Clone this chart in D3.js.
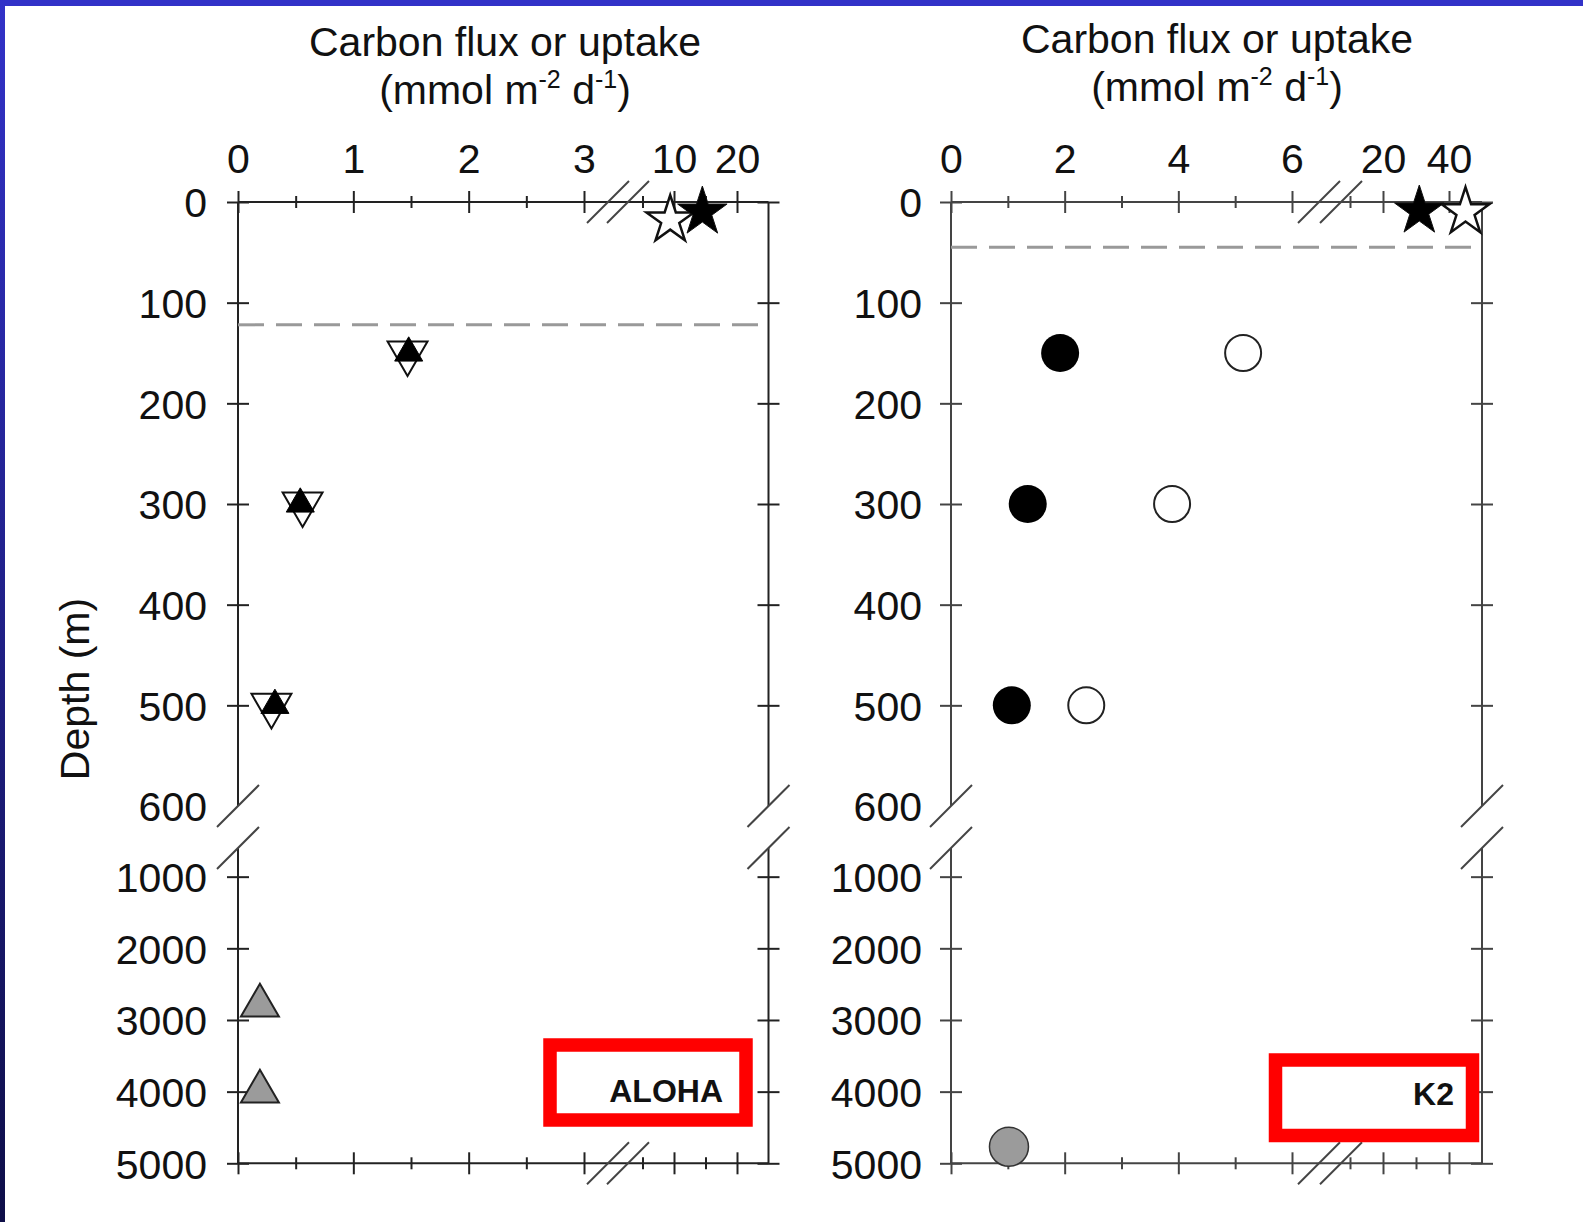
<!DOCTYPE html>
<html>
<head>
<meta charset="utf-8">
<script src="https://cdn.jsdelivr.net/npm/d3@7"></script>
<style>
body{margin:0;background:#fff;}
text{font-family:"Liberation Sans",Arial,sans-serif;fill:#111;}
</style>
</head>
<body>
<div class="chart"></div>
<script>
//depth axis (m)
var depthTicksTop=[0,100,200,300,400,500];
var depthTicksBottom=[1000,2000,3000,4000,5000];
var depthLabelsTop=[0,100,200,300,400,500,600];
var depthLabelsBottom=[1000,2000,3000,4000,5000];

//ALOHA
var alohaTicksLow=[0,1,2,3];
var alohaMinorLow=[0.5,1.5,2.5];
var alohaTicksHigh=[10,20];
var alohaMinorHigh=[5,15];
var alohaDepth=[150,300,500];
var alohaUp=[1.48,0.54,0.32];
var alohaDown=[1.47,0.56,0.29];
var alohaDeepDepth=[2800,4000];
var alohaDeep=[0.19,0.19];
var alohaStarFlux=[9.4,14.5];     //open, filled
var alohaStarDepth=[18,10];
var alohaMld=122;

//K2
var k2TicksLow=[0,2,4,6];
var k2MinorLow=[1,3,5];
var k2TicksHigh=[20,40];
var k2MinorHigh=[10,30];
var k2Depth=[150,300,500];
var k2Filled=[1.92,1.35,1.07];
var k2Open=[5.14,3.89,2.38];
var k2DeepDepth=[4770];
var k2Deep=[1.02];
var k2StarFlux=[45,31];           //open, filled
var k2StarDepth=[10,9];
var k2Mld=45;

var width=1583, height=1222;
var fmt=d3.format('d');
var svg=d3.select('div.chart')
		.append('svg')
		.attr('width',width)
		.attr('height',height);

//blue frame of the slide
var grad=svg.append('defs').append('linearGradient')
		.attr('id','edge').attr('x1',0).attr('y1',0).attr('x2',0).attr('y2',1);
grad.append('stop').attr('offset','0%').attr('stop-color','#3232c8');
grad.append('stop').attr('offset','100%').attr('stop-color','#0e0e48');
svg.append('rect').attr('width',width).attr('height',height).attr('fill','#fff');
svg.append('rect').attr('width',width).attr('height',6).attr('fill','#3232c8');
svg.append('rect').attr('width',5).attr('height',height).attr('fill','url(#edge)');

var yTop=d3.scaleLinear().domain([0,600]).range([202,806]);
var yBot=d3.scaleLinear().domain([600,5000]).range([848,1163.3]);
function y(d){ return d<=600?yTop(d):yBot(d); }

function styleAxis(sel,color){
	sel.attr('font-size',null).attr('font-family',null);
	sel.select('.domain').remove();
	sel.selectAll('line').attr('stroke',color).attr('stroke-width',2);
	sel.selectAll('text').attr('fill','#111').style('font-size','41px');
}

function Title(cx,by){
	svg.append('text')
		.attr('x',cx).attr('y',by)
		.attr('text-anchor','middle')
		.style('font-size','41px')
		.text('Carbon flux or uptake');
	var t=svg.append('text')
		.attr('x',cx).attr('y',by+48)
		.attr('text-anchor','middle')
		.style('font-size','41px');
	t.append('tspan').text('(mmol m');
	t.append('tspan').attr('dy',-16).style('font-size','25px').text('-2');
	t.append('tspan').attr('dy',16).text(' d');
	t.append('tspan').attr('dy',-16).style('font-size','25px').text('-1');
	t.append('tspan').attr('dy',16).text(')');
}

function Panel(o){
	var g=svg.append('g');
	var xLow=d3.scaleLinear().domain(o.lowDomain).range(o.lowRange);
	var xHigh=d3.scaleLinear().domain(o.highDomain).range(o.highRange);
	var x=function(v){ return v<o.split?xLow(v):xHigh(v); };
	var left=xLow(0), right=xHigh(o.highEnd), top=yTop(0), bottom=yBot(5000);
	var c=o.color;

	//frame
	[top,bottom].forEach(function(yy){
		g.append('line').attr('x1',left).attr('x2',right).attr('y1',yy).attr('y2',yy)
			.attr('stroke',c).attr('stroke-width',2);
	});
	[left,right].forEach(function(xx){
		g.append('line').attr('x1',xx).attr('x2',xx).attr('y1',top).attr('y2',yTop(600))
			.attr('stroke',c).attr('stroke-width',2);
		g.append('line').attr('x1',xx).attr('x2',xx).attr('y1',yBot(600)).attr('y2',bottom)
			.attr('stroke',c).attr('stroke-width',2);
	});

	//ticks crossing the lines
	[top,bottom].forEach(function(yy){
		g.append('g').attr('transform','translate(0,'+(yy+11)+')')
			.call(d3.axisTop(xLow).tickValues(o.ticksLow).tickSize(22).tickFormat(''))
			.call(styleAxis,c);
		g.append('g').attr('transform','translate(0,'+(yy+6)+')')
			.call(d3.axisTop(xLow).tickValues(o.minorLow).tickSize(12).tickFormat(''))
			.call(styleAxis,c);
		g.append('g').attr('transform','translate(0,'+(yy+11)+')')
			.call(d3.axisTop(xHigh).tickValues(o.ticksHigh).tickSize(22).tickFormat(''))
			.call(styleAxis,c);
		g.append('g').attr('transform','translate(0,'+(yy+6)+')')
			.call(d3.axisTop(xHigh).tickValues(o.minorHigh).tickSize(12).tickFormat(''))
			.call(styleAxis,c);
	});
	[left,right].forEach(function(xx){
		g.append('g').attr('transform','translate('+(xx+11)+',0)')
			.call(d3.axisLeft(yTop).tickValues(depthTicksTop).tickSize(22).tickFormat(''))
			.call(styleAxis,c);
		g.append('g').attr('transform','translate('+(xx+11)+',0)')
			.call(d3.axisLeft(yBot).tickValues(depthTicksBottom).tickSize(22).tickFormat(''))
			.call(styleAxis,c);
	});

	//labels
	g.append('g').attr('transform','translate(0,'+top+')')
		.call(d3.axisTop(xLow).tickValues(o.ticksLow).tickSize(0).tickPadding(29).tickFormat(fmt))
		.call(styleAxis,c);
	g.append('g').attr('transform','translate(0,'+top+')')
		.call(d3.axisTop(xHigh).tickValues(o.ticksHigh).tickSize(0).tickPadding(29).tickFormat(fmt))
		.call(styleAxis,c);
	g.append('g').attr('transform','translate('+left+',0)')
		.call(d3.axisLeft(yTop).tickValues(depthLabelsTop).tickSize(0).tickPadding(o.labelPad).tickFormat(fmt))
		.call(styleAxis,c)
		.selectAll('text').attr('dy','0.36em');
	g.append('g').attr('transform','translate('+left+',0)')
		.call(d3.axisLeft(yBot).tickValues(depthLabelsBottom).tickSize(0).tickPadding(o.labelPad).tickFormat(fmt))
		.call(styleAxis,c)
		.selectAll('text').attr('dy','0.36em');

	//break marks
	function slash(cx,cy){
		g.append('line')
			.attr('x1',cx-21).attr('y1',cy+21).attr('x2',cx+21).attr('y2',cy-21)
			.attr('stroke','#444').attr('stroke-width',2);
	}
	o.breakX.forEach(function(bx){ slash(bx,top); slash(bx,bottom); });
	[yTop(600),yBot(600)].forEach(function(by){ slash(left,by); slash(right,by); });

	//mixed layer
	g.append('line')
		.attr('x1',left).attr('x2',right)
		.attr('y1',y(o.mld)).attr('y2',y(o.mld))
		.attr('stroke','#999').attr('stroke-width',3)
		.attr('stroke-dasharray','26,12');

	//label box
	g.append('rect')
		.attr('x',o.box[0]).attr('y',o.box[1]).attr('width',o.box[2]).attr('height',o.box[3])
		.attr('fill','#fff').attr('stroke','#ff0000').attr('stroke-width',13.5);
	g.append('text')
		.attr('x',o.boxText[0]).attr('y',o.boxText[1])
		.attr('text-anchor','end')
		.style('font-size','32px').style('font-weight','bold')
		.text(o.name);

	//stars
	var star=d3.symbol().type(d3.symbolStar);
	g.selectAll('path.star')
		.data(o.starFlux)
		.enter()
		.append('path')
		.attr('class','star')
		.attr('transform',function(d,i){ return 'translate('+x(d)+','+y(o.starDepth[i])+')'; })
		.attr('d',function(d,i){ return star.size(i==0?700:760)(); })
		.attr('fill',function(d,i){ return i==0?'#fff':'#000'; })
		.attr('stroke','#111')
		.attr('stroke-width',function(d,i){ return i==0?2.5:1; });
	return {g:g,x:x};
}

Title(505,56);
Title(1217,53);

svg.append('text')
	.attr('transform','translate(89,689) rotate(-90)')
	.attr('text-anchor','middle')
	.style('font-size','41px')
	.text('Depth (m)');

var aloha=Panel({
	name:'ALOHA',color:'#222',
	lowDomain:[0,3],lowRange:[238,584],
	highDomain:[10,20],highRange:[674,737],highEnd:25,split:4,
	ticksLow:alohaTicksLow,minorLow:alohaMinorLow,
	ticksHigh:alohaTicksHigh,minorHigh:alohaMinorHigh,
	labelPad:31,breakX:[608,628],mld:alohaMld,
	box:[550,1045,196,75],boxText:[723,1102],
	starFlux:alohaStarFlux,starDepth:alohaStarDepth
});

var tri=d3.symbol().type(d3.symbolTriangle);
aloha.g.selectAll('path.down')
	.data(alohaDown)
	.enter()
	.append('path')
	.attr('transform',function(d,i){ return 'translate('+aloha.x(d)+','+y(alohaDepth[i])+') rotate(180)'; })
	.attr('d',tri.size(690)())
	.attr('fill','#fff').attr('stroke','#111').attr('stroke-width',2);
aloha.g.selectAll('path.up')
	.data(alohaUp)
	.enter()
	.append('path')
	.attr('transform',function(d,i){ return 'translate('+aloha.x(d)+','+y(alohaDepth[i])+')'; })
	.attr('d',tri.size(340)())
	.attr('fill','#000').attr('stroke','#000').attr('stroke-width',1);
aloha.g.selectAll('path.deep')
	.data(alohaDeep)
	.enter()
	.append('path')
	.attr('transform',function(d,i){ return 'translate('+aloha.x(d)+','+y(alohaDeepDepth[i])+')'; })
	.attr('d',tri.size(625)())
	.attr('fill','#9b9b9b').attr('stroke','#222').attr('stroke-width',2);

var k2=Panel({
	name:'K2',color:'#444',
	lowDomain:[0,6],lowRange:[951,1292],
	highDomain:[10,50],highRange:[1350,1482],highEnd:50,split:8,
	ticksLow:k2TicksLow,minorLow:k2MinorLow,
	ticksHigh:k2TicksHigh,minorHigh:k2MinorHigh,
	labelPad:29,breakX:[1319,1341],mld:k2Mld,
	box:[1275.5,1060,197,75.5],boxText:[1454,1105],
	starFlux:k2StarFlux,starDepth:k2StarDepth
});

k2.g.selectAll('circle.open')
	.data(k2Open)
	.enter()
	.append('circle')
	.attr('cx',function(d){ return k2.x(d); })
	.attr('cy',function(d,i){ return y(k2Depth[i]); })
	.attr('r',18)
	.attr('fill','#fff').attr('stroke','#222').attr('stroke-width',2);
k2.g.selectAll('circle.filled')
	.data(k2Filled)
	.enter()
	.append('circle')
	.attr('cx',function(d){ return k2.x(d); })
	.attr('cy',function(d,i){ return y(k2Depth[i]); })
	.attr('r',19)
	.attr('fill','#000');
k2.g.selectAll('circle.deep')
	.data(k2Deep)
	.enter()
	.append('circle')
	.attr('cx',function(d){ return k2.x(d); })
	.attr('cy',function(d,i){ return y(k2DeepDepth[i]); })
	.attr('r',19.5)
	.attr('fill','#9b9b9b').attr('stroke','#333').attr('stroke-width',1.5);
</script>
</body>
</html>
